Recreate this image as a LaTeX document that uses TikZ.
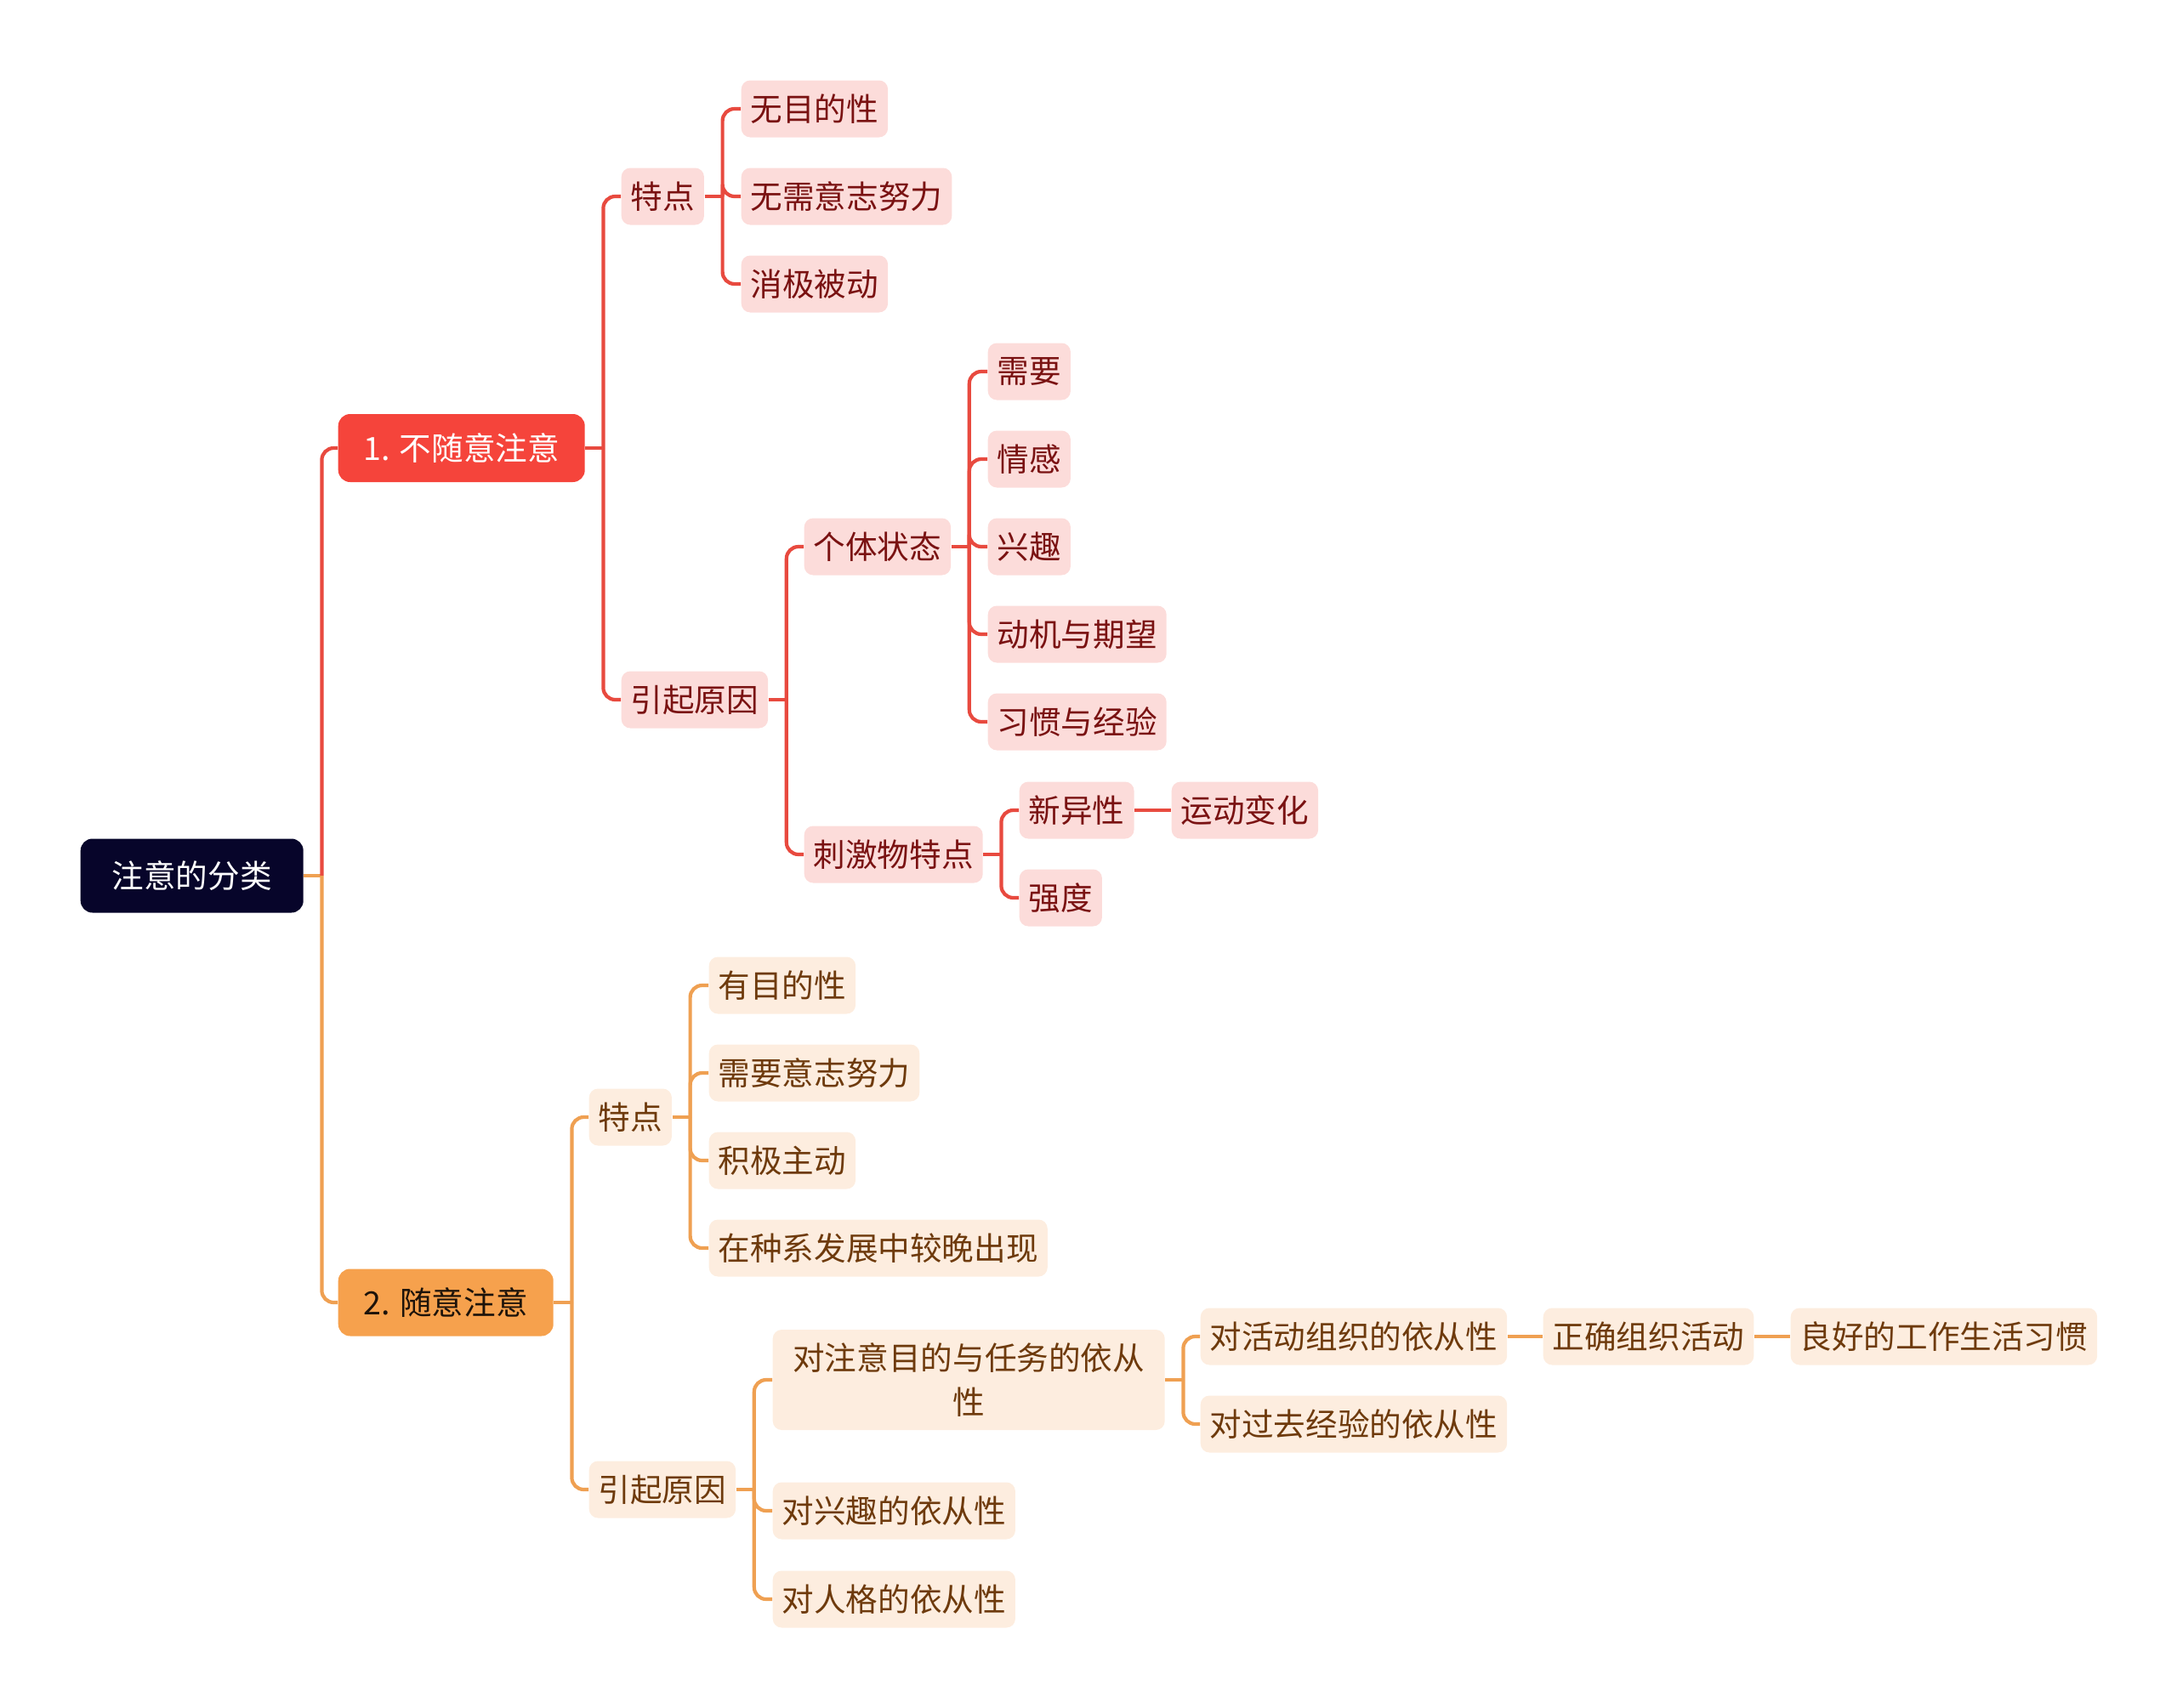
\documentclass[tikz,border=0pt]{standalone}
\usepackage{fontspec}
\setmainfont{Noto Sans CJK SC}
\usepackage{tikz}
\usetikzlibrary{positioning}

\begin{document}
\begin{tikzpicture}[
  x=1cm,y=1cm,
  font=\fontsize{10.7pt}{15pt}\selectfont,
  box/.style={rounded corners=3pt,minimum height=0.67cm,inner xsep=0.11cm,inner ysep=0pt,anchor=west,align=center},
  rbox/.style={box,fill=pinkFill,text=redText},
  obox/.style={box,fill=peachFill,text=brownText},
  top/.style={box,rounded corners=4pt,minimum height=#1},
  arr/.style={line width=1.2pt,draw=#1,rounded corners=4pt},
]
\definecolor{rootFill}{HTML}{07052A}
\definecolor{redLine}{HTML}{E84A3F}
\definecolor{redFill}{HTML}{F5443B}
\definecolor{pinkFill}{HTML}{FCDCDA}
\definecolor{redText}{HTML}{7A1212}
\definecolor{orLine}{HTML}{EFA052}
\definecolor{orFill}{HTML}{F6A14D}
\definecolor{peachFill}{HTML}{FDEDDF}
\definecolor{brownText}{HTML}{6E3A0C}

\useasboundingbox (0,0) rectangle (25.6,-20.09);

% root and first level
\node[top=0.87cm,fill=rootFill,text=white,minimum width=2.62cm] (root) at (0.94,-10.30) {注意的分类};
\node[top=0.80cm,fill=redFill,text=white,minimum width=2.90cm] (inv) at (3.97,-5.27) {1. 不随意注意};
\node[top=0.79cm,fill=orFill,text=black!85!brown,minimum width=2.53cm] (vol) at (3.97,-15.32) {2. 随意注意};

% 不随意注意
\node[rbox] (invFeat) at (7.30,-2.31) {特点};
\node[rbox] (noAim) at (8.71,-1.28) {无目的性};
\node[rbox] (noWill) at (8.71,-2.31) {无需意志努力};
\node[rbox] (passive) at (8.71,-3.34) {消极被动};
\node[rbox] (invCause) at (7.30,-8.23) {引起原因};
\node[rbox] (state) at (9.45,-6.43) {个体状态};
\node[rbox] (need) at (11.61,-4.37) {需要};
\node[rbox] (emotion) at (11.61,-5.40) {情感};
\node[rbox] (interest) at (11.61,-6.43) {兴趣};
\node[rbox] (motive) at (11.61,-7.46) {动机与期望};
\node[rbox] (habit) at (11.61,-8.49) {习惯与经验};
\node[rbox] (stim) at (9.45,-10.05) {刺激物特点};
\node[rbox] (novel) at (11.98,-9.53) {新异性};
\node[rbox] (motion) at (13.77,-9.53) {运动变化};
\node[rbox] (strength) at (11.98,-10.56) {强度};

% 随意注意
\node[obox] (volFeat) at (6.92,-13.14) {特点};
\node[obox] (aim) at (8.33,-11.59) {有目的性};
\node[obox] (will) at (8.33,-12.62) {需要意志努力};
\node[obox] (active) at (8.33,-13.65) {积极主动};
\node[obox] (late) at (8.33,-14.68) {在种系发展中较晚出现};
\node[obox] (volCause) at (6.92,-17.52) {引起原因};
\node[obox,text width=4.35cm,inner xsep=0.13cm,minimum height=1.18cm] (task) at (9.08,-16.23) {对注意目的与任务的依从\\性};
\node[obox] (organize) at (14.11,-15.72) {对活动组织的依从性};
\node[obox] (correct) at (18.14,-15.72) {正确组织活动};
\node[obox] (good) at (21.05,-15.72) {良好的工作生活习惯};
\node[obox] (past) at (14.11,-16.75) {对过去经验的依从性};
\node[obox] (likes) at (9.08,-17.77) {对兴趣的依从性};
\node[obox] (person) at (9.08,-18.81) {对人格的依从性};

% connectors
\draw[arr=orLine] (root.east) -- ++(0.21,0) coordinate (rootJ);
\draw[arr=redLine] (rootJ) |- (inv.west);
\draw[arr=orLine] (rootJ) |- (vol.west);

\draw[arr=redLine] (inv.east) -- ++(0.21,0) coordinate (invJ);
\draw[arr=redLine] (invJ) |- (invFeat.west);
\draw[arr=redLine] (invJ) |- (invCause.west);
\draw[arr=redLine] (invFeat.east) -- ++(0.21,0) coordinate (invFeatJ);
\foreach \n in {noAim,noWill,passive} \draw[arr=redLine] (invFeatJ) |- (\n.west);
\draw[arr=redLine] (invCause.east) -- ++(0.21,0) coordinate (invCauseJ);
\draw[arr=redLine] (invCauseJ) |- (state.west);
\draw[arr=redLine] (invCauseJ) |- (stim.west);
\draw[arr=redLine] (state.east) -- ++(0.21,0) coordinate (stateJ);
\foreach \n in {need,emotion,interest,motive,habit} \draw[arr=redLine] (stateJ) |- (\n.west);
\draw[arr=redLine] (stim.east) -- ++(0.21,0) coordinate (stimJ);
\draw[arr=redLine] (stimJ) |- (novel.west);
\draw[arr=redLine] (stimJ) |- (strength.west);
\draw[arr=redLine] (novel) -- (motion);

\draw[arr=orLine] (vol.east) -- ++(0.21,0) coordinate (volJ);
\draw[arr=orLine] (volJ) |- (volFeat.west);
\draw[arr=orLine] (volJ) |- (volCause.west);
\draw[arr=orLine] (volFeat.east) -- ++(0.21,0) coordinate (volFeatJ);
\foreach \n in {aim,will,active,late} \draw[arr=orLine] (volFeatJ) |- (\n.west);
\draw[arr=orLine] (volCause.east) -- ++(0.21,0) coordinate (volCauseJ);
\foreach \n in {task,likes,person} \draw[arr=orLine] (volCauseJ) |- (\n.west);
\draw[arr=orLine] (task.east) -- ++(0.21,0) coordinate (taskJ);
\draw[arr=orLine] (taskJ) |- (organize.west);
\draw[arr=orLine] (taskJ) |- (past.west);
\draw[arr=orLine] (organize) -- (correct);
\draw[arr=orLine] (correct) -- (good);
\end{tikzpicture}
\end{document}
